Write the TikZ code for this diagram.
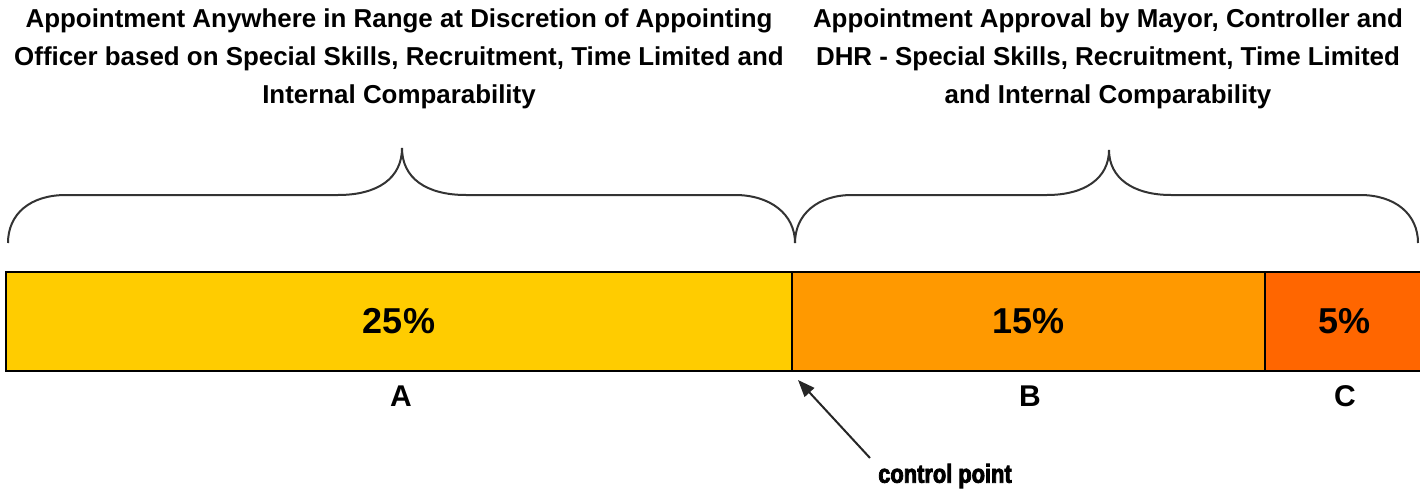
\documentclass[tikz,border=0pt]{standalone}
\usepackage{fontspec}
\setmainfont{Liberation Sans}
\newfontfamily\headfont{Liberation Sans}
\newfontfamily\cpfont{Liberation Sans}[FakeStretch=0.84,FakeBold=3]
\usetikzlibrary{arrows.meta}
\definecolor{segA}{HTML}{FFCC00}
\definecolor{segB}{HTML}{FF9900}
\definecolor{segC}{HTML}{FF6600}
\definecolor{bracegray}{HTML}{333333}
\tikzset{
  seg/.style={draw=black, line width=1.6pt, minimum height=99pt, inner sep=0pt, outer sep=0pt,
    font=\fontsize{36}{42}\selectfont\bfseries},
  letter/.style={font=\fontsize{30}{36}\selectfont\bfseries, inner sep=0pt},
  head/.style={align=center, inner sep=0pt, font=\headfont\fontsize{25.9}{38}\selectfont\bfseries},
  bracestyle/.style={draw=bracegray, line width=2pt},
  cparrow/.style={draw=black!85, line width=2pt, -{Triangle[length=17pt,width=13pt]}}
}
\begin{document}
\begin{tikzpicture}[x=1pt,y=-1pt]
\path[use as bounding box] (0,0) rectangle (1420,492);
% bar
\node[seg, fill=segA, minimum width=786pt] (A) at (399,321.5) {25\%};
\node[seg, fill=segB, minimum width=473pt] (B) at (1028.5,321.5) {15\%};
\node[seg, fill=segC, minimum width=158pt] (C) at (1344,321.5) {5\%};
% letters
\node[letter] (la) at (401,396) {A};
\node[letter] (lb) at (1030,396) {B};
\node[letter] (lc) at (1345,396) {C};
% headings
\node[head, anchor=north] (h1) at (399,9) {Appointment Anywhere in Range at Discretion of Appointing\\Officer based on Special Skills, Recruitment, Time Limited and\\Internal Comparability};
\node[head, anchor=north] (h2) at (1108,9) {Appointment Approval by Mayor, Controller and\\DHR - Special Skills, Recruitment, Time Limited\\and Internal Comparability};
% braces
\draw[bracestyle] (8,243) .. controls (8,214) and (30,195) .. (66,195) -- (338,195)
  .. controls (378,195) and (402,178) .. (402,148)
  .. controls (402,178) and (426,195) .. (466,195) -- (735,195)
  .. controls (770,195) and (795,214) .. (795,243);
\draw[bracestyle] (795,243) .. controls (795,214) and (818,195) .. (852,195) -- (1047,195)
  .. controls (1085,195) and (1109,178) .. (1109,150)
  .. controls (1109,178) and (1133,195) .. (1171,195) -- (1360,195)
  .. controls (1395,195) and (1418,214) .. (1418,243);
% control point
\node[inner sep=0pt, font=\cpfont\fontsize{26}{30}\selectfont\bfseries] (cp) at (945,476) {control point};
\coordinate (cptail) at (870,458);
\coordinate (cptip) at (798,380);
\draw[cparrow] (cptail) -- (cptip);
\end{tikzpicture}
\end{document}
